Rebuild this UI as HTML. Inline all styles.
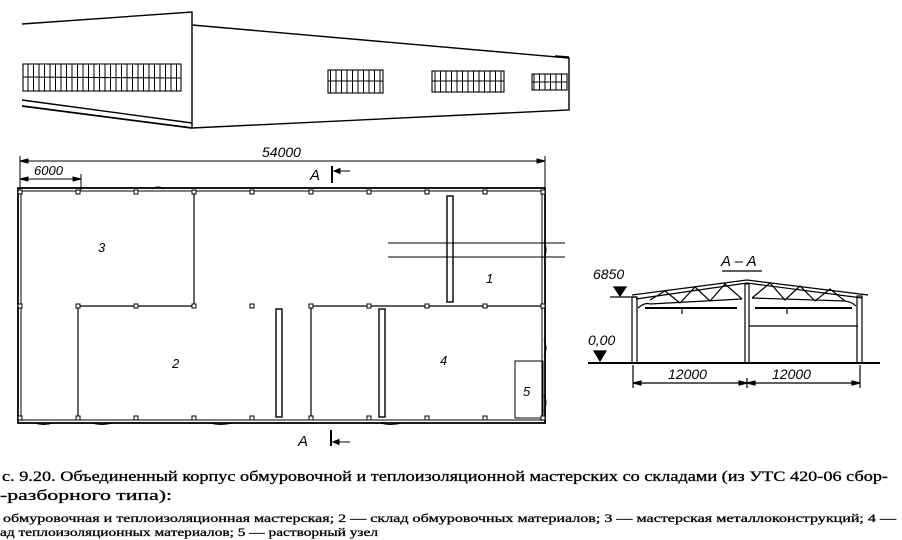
<!DOCTYPE html>
<html><head><meta charset="utf-8"><style>
html,body{margin:0;padding:0;background:#fff;}
svg{display:block;}
text{font-family:"Liberation Sans","DejaVu Sans",sans-serif;}
.s{font-family:"Liberation Serif","DejaVu Serif",serif;}
</style></head><body>
<svg width="902" height="540" viewBox="0 0 902 540" xmlns="http://www.w3.org/2000/svg">
<g fill="none" stroke="#000" stroke-width="1.4">
<polyline points="22,24 192,12 192,128"/>
<polyline points="192,25 569,58 569,110 192,128"/>
<line x1="555" y1="56" x2="569" y2="57"/>
<line x1="22" y1="100" x2="192" y2="123"/>
<line x1="22" y1="106" x2="192" y2="128" stroke-width="1.7"/>
</g>
<defs>
<pattern id="win" width="5.5" height="40" patternUnits="userSpaceOnUse"><line x1="0.5" y1="0" x2="0.5" y2="40" stroke="#000" stroke-width="1"/></pattern>
</defs>
<g stroke="#000" stroke-width="1.1">
<rect x="23" y="64" width="158" height="27" fill="url(#win)"/>
<line x1="23" y1="77" x2="181" y2="78"/>
<rect x="328" y="70" width="55" height="23" fill="url(#win)"/>
<line x1="328" y1="81" x2="383" y2="81"/>
<rect x="432" y="71" width="72" height="21" fill="url(#win)"/>
<line x1="432" y1="81" x2="504" y2="81"/>
<rect x="532" y="74" width="35" height="16" fill="url(#win)"/>
<line x1="532" y1="82" x2="567" y2="82"/>
</g>

<g fill="none" stroke="#000" stroke-width="1">
<line x1="20" y1="161" x2="545" y2="161"/>
<line x1="20" y1="156" x2="20" y2="190"/>
<line x1="545" y1="156" x2="545" y2="190"/>
<line x1="20" y1="179" x2="81" y2="179"/>
<line x1="81" y1="174" x2="81" y2="190"/>
<path d="M20,161 l8,-2 v4z M545,161 l-8,-2 v4z M20,179 l8,-2 v4z M81,179 l-8,-2 v4z" fill="#000"/>
<rect x="18" y="188" width="527" height="235" stroke-width="1.8"/>
<line x1="18" y1="191" x2="545" y2="191"/>
<line x1="20" y1="420" x2="543" y2="420"/>
<line x1="21" y1="190" x2="21" y2="421"/>
<line x1="542" y1="190" x2="542" y2="421"/>
<polyline points="194,193 194,306 78,306 78,418" stroke-width="1.2"/>
<polyline points="545,306 311,306 311,418" stroke-width="1.2"/>
<rect x="515" y="361" width="28" height="57"/>
<rect x="276" y="309" width="6" height="108" stroke-width="1.4"/>
<rect x="379" y="309" width="6" height="108" stroke-width="1.4"/>
<rect x="447" y="196" width="6" height="106" stroke-width="1.4"/>
<line x1="388" y1="243" x2="565" y2="243"/>
<line x1="388" y1="257" x2="565" y2="257"/>
<line x1="332" y1="166" x2="332" y2="183" stroke-width="2"/>
<line x1="334" y1="171" x2="350" y2="171"/>
<path d="M334,171 l6,-2.5 v5z" fill="#000"/>
<line x1="331" y1="430" x2="331" y2="446" stroke-width="2"/>
<line x1="333" y1="442" x2="350" y2="442"/>
<path d="M333,442 l6,-2.5 v5z" fill="#000"/>
<path d="M152,189 q6,-4 12,0 M35,423 q8,3 18,0 M92,423 q10,3 20,0 M210,423 q10,3 22,0 M380,423 q10,3 22,0 M544,242 q4,8 0,16 M544,340 q4,8 0,16 M544,395 q4,8 0,16"/>
</g>
<g fill="#fff" stroke="#000" stroke-width="1">
<rect x="18" y="190" width="4" height="4"/><rect x="76" y="190" width="4" height="4"/><rect x="134" y="190" width="4" height="4"/><rect x="192" y="190" width="4" height="4"/><rect x="250" y="190" width="4" height="4"/><rect x="309" y="190" width="4" height="4"/><rect x="367" y="190" width="4" height="4"/><rect x="425" y="190" width="4" height="4"/><rect x="483" y="190" width="4" height="4"/><rect x="541" y="190" width="4" height="4"/>
<rect x="18" y="304" width="4" height="4"/><rect x="76" y="304" width="4" height="4"/><rect x="134" y="304" width="4" height="4"/><rect x="192" y="304" width="4" height="4"/><rect x="250" y="304" width="4" height="4"/><rect x="309" y="304" width="4" height="4"/><rect x="367" y="304" width="4" height="4"/><rect x="425" y="304" width="4" height="4"/><rect x="483" y="304" width="4" height="4"/><rect x="541" y="304" width="4" height="4"/>
<rect x="18" y="416" width="4" height="4"/><rect x="76" y="416" width="4" height="4"/><rect x="134" y="416" width="4" height="4"/><rect x="192" y="416" width="4" height="4"/><rect x="250" y="416" width="4" height="4"/><rect x="309" y="416" width="4" height="4"/><rect x="367" y="416" width="4" height="4"/><rect x="425" y="416" width="4" height="4"/><rect x="483" y="416" width="4" height="4"/><rect x="541" y="416" width="4" height="4"/>
</g>
<g font-style="italic" font-size="13" fill="#000">
<text x="262" y="157" font-size="14">54000</text>
<text x="34" y="175">6000</text>
<text x="310" y="180" font-size="15">A</text>
<text x="298" y="446" font-size="15">A</text>
<text x="98" y="252">3</text>
<text x="172" y="368">2</text>
<text x="486" y="283">1</text>
<text x="440" y="365">4</text>
<text x="523" y="396">5</text>
</g>

<g fill="none" stroke="#000" stroke-width="1.2">
<line x1="722" y1="271" x2="762" y2="271"/>
<line x1="588" y1="363" x2="880" y2="363" stroke-width="2"/>
<line x1="610" y1="297" x2="636" y2="297"/>
<line x1="596" y1="363" x2="606" y2="363"/>
<rect x="632" y="297" width="5" height="66"/>
<rect x="745" y="284" width="4" height="79"/>
<rect x="857" y="296" width="5" height="67"/>
<polyline points="632,295 747,280 868,295"/>
<polyline points="636,299 747,283 862,298"/>
<path d="M638,308 Q645,302 650,304 L742,299 M752,298 L845,301 Q852,302 856,306"/>
<path d="M650,300 L665,291 L680,303 L695,287 L710,301 L725,284 L742,299 M752,298 L770,283 L785,300 L800,286 L815,301 L830,289 L845,301"/>
<line x1="645" y1="308" x2="737" y2="308" stroke-width="2"/>
<line x1="755" y1="308" x2="852" y2="308" stroke-width="2"/>
<line x1="749" y1="326" x2="858" y2="326"/>
<path d="M682,309 v5 M787,309 v5"/>
<line x1="633" y1="383" x2="860" y2="383"/>
<line x1="633" y1="365" x2="633" y2="388"/>
<line x1="860" y1="365" x2="860" y2="388"/>
<line x1="747" y1="378" x2="747" y2="388"/>
<path d="M633,383 l8,-2 v4z M747,383 l-8,-2 v4z M747,383 l8,-2 v4z M860,383 l-8,-2 v4z" fill="#000"/>
<path d="M614,287 h12 l-6,9z" fill="#000"/>
<path d="M594,351 h12 l-6,10z" fill="#000"/>
</g>
<g font-style="italic" font-size="14" fill="#000">
<text x="721" y="266" font-size="15">A – A</text>
<text x="593" y="279">6850</text>
<text x="588" y="345">0,00</text>
<text x="668" y="379">12000</text>
<text x="772" y="379">12000</text>
</g>

<g class="s" fill="#000" stroke="#000" stroke-width="0.3">
<text class="s" x="2" y="481" font-size="15" textLength="886" lengthAdjust="spacingAndGlyphs">с. 9.20. Объединенный  корпус  обмуровочной  и теплоизоляционной мастерских со складами (из УТС 420-06 сбор-</text>
<text class="s" x="0" y="500" font-size="15" textLength="172" lengthAdjust="spacingAndGlyphs">-разборного типа):</text>
<text class="s" x="3" y="522" font-size="12" textLength="893" lengthAdjust="spacingAndGlyphs">обмуровочная и теплоизоляционная мастерская; 2 — склад обмуровочных материалов; 3 — мастерская металлоконструкций; 4 —</text>
<text class="s" x="0" y="536" font-size="12" textLength="378" lengthAdjust="spacingAndGlyphs">ад теплоизоляционных материалов; 5 — растворный узел</text>
</g>
</svg>
</body></html>
